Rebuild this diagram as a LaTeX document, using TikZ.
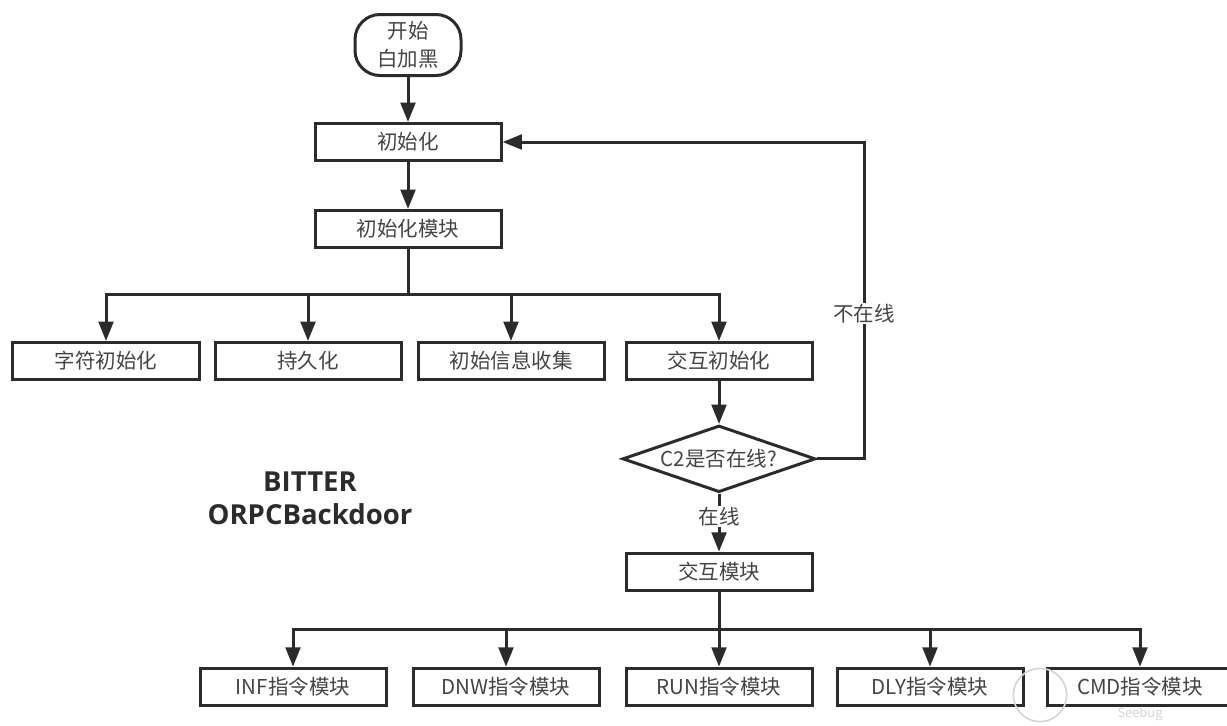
\documentclass[tikz,border=0pt]{standalone}
\usepackage{fontspec}
\setmainfont{Noto Sans CJK SC}
\newfontfamily\titlefont{Open Sans}
\usetikzlibrary{arrows.meta,positioning,shapes.geometric}
\definecolor{ink}{HTML}{2B2B2B}
\definecolor{word}{HTML}{444444}
\definecolor{mark}{HTML}{D4D4D4}
\begin{document}
\begin{tikzpicture}[
  box/.style={draw=ink,fill=white,line width=0.09cm,align=center,text=word,
    minimum width=5.58cm,minimum height=1.11cm,inner sep=0pt,font=\fontsize{17.5}{24}\selectfont},
  start/.style={box,rounded corners=0.75cm,minimum width=3.18cm,minimum height=1.83cm},
  decision/.style={box,diamond,minimum width=5.79cm,minimum height=2cm,aspect=2.85},
  arrow/.style={-{Triangle[length=0.58cm,width=0.44cm]},line width=0.09cm,ink},
  line/.style={line width=0.09cm,ink},
  tag/.style={fill=white,text=word,inner sep=1pt,font=\fontsize{17.5}{20}\selectfont}]
\useasboundingbox (0,0) rectangle (36.81,-21.75);
\node[start] (start) at (12.24,-1.35) {开始\\白加黑};
\node[box,below=1.35cm of start] (init) {初始化};
\node[box,below=1.41cm of init] (initmod) {初始化模块};
\coordinate[below=1.35cm of initmod] (split);
% first row
\node[box] (chars) at (3.18,-10.83) {字符初始化};
\node[box,right=0.39cm of chars] (persist) {持久化};
\node[box,right=0.42cm of persist] (collect) {初始信息收集};
\node[box,right=0.57cm of collect] (interinit) {交互初始化};
\node[decision,below=1.29cm of interinit] (online) {C2是否在线?};
\node[box,below=1.74cm of online] (intermod) {交互模块};
\coordinate[below=1.14cm of intermod] (fork);
% second row
\node[box,below=2.25cm of intermod] (run) {RUN指令模块};
\node[box,left=0.72cm of run] (dnw) {DNW指令模块};
\node[box,left=0.72cm of dnw] (inf) {INF指令模块};
\node[box,right=0.66cm of run] (dly) {DLY指令模块};
\node[box,right=0.63cm of dly] (cmd) {CMD指令模块};
\node[align=center,text=ink,font=\titlefont\fontsize{23.5}{27.5}\selectfont\bfseries] (title) at (9.3,-14.95) {BITTER\\ORPCBackdoor};
\draw[arrow] (start)--(init);
\draw[arrow] (init)--(initmod);
\draw[line] (initmod)--(split);
\draw[arrow] (split)-|(chars);
\draw[arrow] (split)-|(persist);
\draw[arrow] (split)-|(collect);
\draw[arrow] (split)-|(interinit);
\draw[arrow] (interinit)--(online);
\draw[arrow] (online)--node[tag,pos=0.4] (up) {在线} (intermod);
\coordinate[right=1.41cm of online] (back);
\draw[arrow] (online.east)--(back)|-(init.east) node[tag,pos=0.229] (down) {不在线};
\draw[line] (intermod)--(fork);
\draw[arrow] (fork)-|(inf);
\draw[arrow] (fork)-|(dnw);
\draw[arrow] (fork)--(run);
\draw[arrow] (fork)-|(dly);
\draw[arrow] (fork)-|(cmd);
% watermark
\node[draw=mark,circle,line width=0.05cm,minimum size=1.6cm,inner sep=0pt] (logo) at (31.2,-20.85) {};
\node[text=mark,font=\fontsize{11}{13}\selectfont] (site) at (34.2,-21.42) {Seebug};
\end{tikzpicture}
\end{document}
